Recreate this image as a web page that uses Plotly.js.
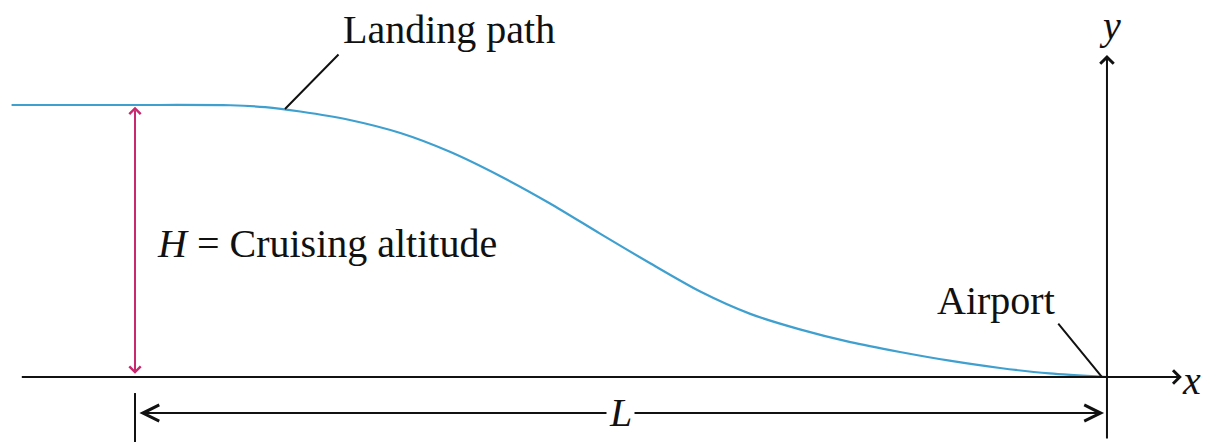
<!DOCTYPE html>
<html>
<head>
<meta charset="utf-8">
<script src="https://cdn.plot.ly/plotly-3.0.1.min.js"></script>
<style>html,body{margin:0;padding:0;background:#fff;}#chart{width:1224px;height:448px;}</style>
</head>
<body>
<div id="chart"></div>
<script>
// Units: horizontal distance as a fraction of L, altitude as a fraction of H (airport at origin)
const L = 1;
const H = 1;
const pathX = [-1.127, -1.0, -0.902, -0.866, -0.830, -0.779, -0.727, -0.676, -0.625, -0.573, -0.522, -0.470, -0.419, -0.367, -0.316, -0.264, -0.213, -0.162, -0.110, -0.059, 0];
const pathY = [1.0, 1.0, 0.999, 0.992, 0.976, 0.945, 0.897, 0.828, 0.740, 0.638, 0.528, 0.418, 0.315, 0.232, 0.175, 0.128, 0.092, 0.060, 0.033, 0.013, 0];
const labels = {path: 'Landing path', cruise: '<i>H</i> = Cruising altitude', airport: 'Airport', x: '<i>x</i>', y: '<i>y</i>', L: '<i>L</i>'};

const serif = '"Liberation Serif", "Times New Roman", serif';
const black = '#111111';
const magenta = '#c8286e';
const blue = '#3fa0d0';

const traces = [{
  x: pathX, y: pathY, type: 'scatter', mode: 'lines',
  line: {color: blue, width: 2.2, shape: 'spline', smoothing: 0.7},
  hoverinfo: 'skip', showlegend: false
}];

function arrow(x0, y0, x1, y1, opts) {
  return Object.assign({
    x: x1, y: y1, ax: x0, ay: y0, xref: 'x', yref: 'y', axref: 'x', ayref: 'y',
    text: '', showarrow: true, arrowhead: 4, arrowsize: 1.3, arrowwidth: 2, arrowcolor: black, standoff: 0
  }, opts || {});
}
function label(text, x, y, opts) {
  return Object.assign({
    x: x, y: y, xref: 'x', yref: 'y', text: text, showarrow: false,
    font: {family: serif, size: 40, color: black}, xanchor: 'center', yanchor: 'middle'
  }, opts || {});
}

const annotations = [
  // x axis
  arrow(-1.118 * L, 0, 0.077 * L, 0, {arrowhead: 4, arrowsize: 1.3}),
  // y axis
  arrow(0, -0.232 * H, 0, 1.184 * H, {arrowhead: 4, arrowsize: 1.3}),
  // H dimension (magenta)
  arrow(-L, 0.006 * H, -L, 0.994 * H, {arrowside: 'end+start', arrowhead: 4, startarrowhead: 4, arrowsize: 1.1, startarrowsize: 1.1, arrowwidth: 2, arrowcolor: magenta}),
  // L dimension
  arrow(-L + 0.003, -0.1324 * H, -0.003, -0.1324 * H, {arrowside: 'end+start', arrowhead: 5, startarrowhead: 5, arrowsize: 1.6, startarrowsize: 1.6, arrowwidth: 2}),
  // leaders
  arrow(-0.7891 * L, 1.1912 * H, -0.8457 * L, 0.9853 * H, {arrowhead: 0}),
  arrow(-0.0514 * L, 0.2022 * H, -0.0051 * L, 0, {arrowhead: 0}),
  // labels
  label(labels.path, -0.677 * L, 1.276 * H),
  label(labels.cruise, -0.8025 * L, 0.4926 * H),
  label(labels.airport, -0.1142 * L, 0.283 * H),
  label(labels.y, 0.003 * L, 1.294 * H),
  label(labels.x, 0.0874 * L, -0.011 * H),
  label(labels.L, -0.501 * L, -0.132 * H, {bgcolor: '#ffffff', borderpad: 2})
];

const shapes = [
  {type: 'line', xref: 'x', yref: 'y', x0: -L, x1: -L, y0: -0.059 * H, y1: -0.239 * H, line: {color: black, width: 2}}
];

const layout = {
  width: 1224, height: 448,
  margin: {l: 0, r: 0, t: 0, b: 0},
  paper_bgcolor: '#ffffff', plot_bgcolor: '#ffffff',
  xaxis: {range: [-1.1389, 0.1204], visible: false, fixedrange: true},
  yaxis: {range: [-0.261, 1.386], visible: false, fixedrange: true},
  showlegend: false,
  annotations: annotations,
  shapes: shapes
};

Plotly.newPlot('chart', traces, layout, {staticPlot: true, displayModeBar: false});
</script>
</body>
</html>
